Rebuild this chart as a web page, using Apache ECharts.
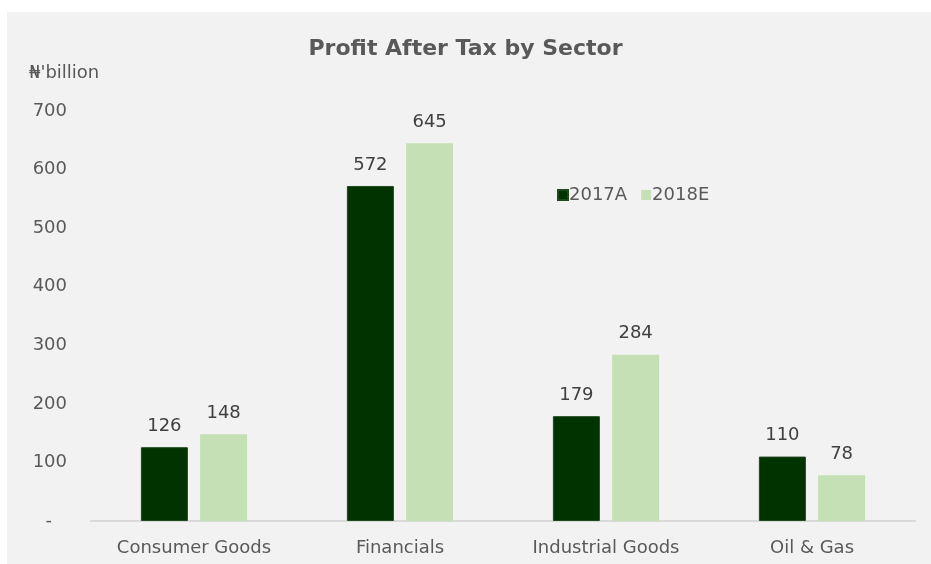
<!DOCTYPE html>
<html>
<head>
<meta charset="utf-8">
<script src="https://cdn.jsdelivr.net/npm/echarts@6/dist/echarts.min.js"></script>
<style>
  html, body { margin: 0; padding: 0; background: #ffffff; }
  #chart { width: 931px; height: 564px; }
</style>
</head>
<body>
<div id="chart"></div>
<script>
const sectors = ['Consumer Goods', 'Financials', 'Industrial Goods', 'Oil & Gas'];
const pat2017A = [126, 572, 179, 110];
const pat2018E = [148, 645, 284, 78];
const seriesNames = ['2017A', '2018E'];
const yTicks = [0, 100, 200, 300, 400, 500, 600, 700];

const FONT = 'Verdana, "DejaVu Sans", sans-serif';
const chart = echarts.init(document.getElementById('chart'), null, { renderer: 'canvas' });

chart.setOption({
  animation: false,
  backgroundColor: '#ffffff',
  graphic: [{
    type: 'rect', z: -10, silent: true,
    shape: { x: 7, y: 12, width: 924, height: 552 },
    style: { fill: '#f2f2f2' }
  }],
  title: {
    text: 'Profit After Tax by Sector',
    left: 'center', top: 33,
    textStyle: { fontFamily: FONT, fontSize: 22, fontWeight: 'bold', color: '#595959' }
  },
  legend: {
    data: seriesNames,
    left: 552, top: 181,
    itemWidth: 10, itemHeight: 10, itemGap: 14,
    icon: 'rect',
    textStyle: { fontFamily: FONT, fontSize: 18, color: '#595959', padding: [0, 0, 0, -4] }
  },
  grid: { left: 91, right: 16, top: 111, bottom: 43, containLabel: false },
  xAxis: {
    type: 'category',
    data: sectors,
    axisLine: { lineStyle: { color: '#d9d9d9', width: 2 } },
    axisTick: { show: false },
    axisLabel: { fontFamily: FONT, fontSize: 18, color: '#595959', margin: 18 }
  },
  yAxis: {
    type: 'value',
    min: 0, max: 700, interval: 100,
    data: yTicks,
    name: "₦'billion",
    nameLocation: 'end',
    nameGap: 29,
    nameTextStyle: { fontFamily: FONT, fontSize: 18, color: '#595959', align: 'left', padding: [0, 0, 0, -62] },
    splitLine: { show: false },
    axisLine: { show: false },
    axisTick: { show: false },
    axisLabel: {
      fontFamily: FONT, fontSize: 18, color: '#595959', margin: 24, align: 'right',
      formatter: v => (v === 0 ? '{dash|-}' : String(v)),
      rich: {
        dash: { fontFamily: FONT, fontSize: 18, color: '#595959', padding: [0, 15, 0, 0] }
      }
    }
  },
  series: [
    {
      name: seriesNames[0], type: 'bar', data: pat2017A,
      barWidth: 47, barGap: '26%',
      itemStyle: { color: '#003300', borderColor: '#1f4a1f', borderWidth: 1 },
      label: { show: true, position: 'top', distance: 12, fontFamily: FONT, fontSize: 18, color: '#404040' }
    },
    {
      name: seriesNames[1], type: 'bar', data: pat2018E,
      barWidth: 47,
      itemStyle: { color: '#c5e0b4' },
      label: { show: true, position: 'top', distance: 12, fontFamily: FONT, fontSize: 18, color: '#404040' }
    }
  ]
});
</script>
</body>
</html>
